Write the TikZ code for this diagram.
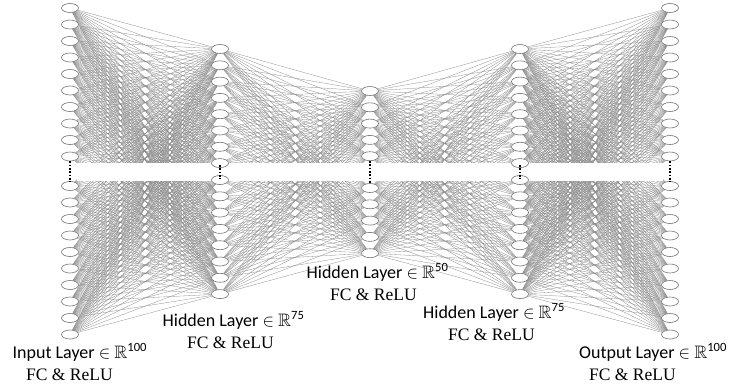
\documentclass[tikz,border=0pt]{standalone}
\usepackage{fontspec}
\usepackage{amssymb}
\newfontfamily\labfont{Carlito}
\newfontfamily\subfont{Liberation Serif}
\usetikzlibrary{backgrounds,shapes.geometric}
\begin{document}
\begin{tikzpicture}[x=1pt,y=-1pt,
  neuron/.style={ellipse, draw=black!55, line width=0.6pt, fill=white,
    minimum width=17pt, minimum height=9pt, inner sep=0pt},
  edge/.style={draw=black!45, line width=0.3pt},
  gapdots/.style={line width=2pt, dash pattern=on 1.8pt off 1.5pt},
  lab/.style={font=\labfont\fontsize{18}{21}\selectfont, inner sep=0pt, anchor=base west},
  sublab/.style={font=\subfont\fontsize{17.5}{20}\selectfont, inner sep=0pt, anchor=base west}]
\useasboundingbox (0,0) rectangle (729,391);
% layers 1 and 5
\foreach \i in {1,...,20} {
  \pgfmathsetmacro\yy{\i<=10 ? 8+16.5*(\i-1) : 186+16.5*(\i-11)}
  \node[neuron] (a\i) at (70,\yy) {};
  \node[neuron] (e\i) at (670,\yy) {};
}
% layers 2 and 4
\foreach \i in {1,...,16} {
  \pgfmathsetmacro\yy{\i<=8 ? 49+16.3*(\i-1) : 180+16.3*(\i-9)}
  \node[neuron] (b\i) at (220,\yy) {};
  \node[neuron] (d\i) at (520,\yy) {};
}
% layer 3
\foreach \i in {1,...,10} {
  \pgfmathsetmacro\yy{\i<=5 ? 91+16.3*(\i-1) : 188+16.3*(\i-6)}
  \node[neuron] (c\i) at (370,\yy) {};
}
\begin{scope}[on background layer]
  \foreach \i in {1,...,20} {
    \foreach \j in {1,...,16} {
      \draw[edge] (a\i) -- (b\j);
      \draw[edge] (d\j) -- (e\i);
    }
  }
  \foreach \i in {1,...,16} {
    \foreach \j in {1,...,10} {
      \draw[edge] (b\i) -- (c\j);
      \draw[edge] (c\j) -- (d\i);
    }
  }
  \fill[white] (77,163) rectangle (663,180.5);
\end{scope}
\draw[gapdots] (a10.south) -- (a11.north);
\draw[gapdots] (e10.south) -- (e11.north);
\draw[gapdots, shorten <=-3pt, shorten >=-3pt] (b8.south) -- (b9.north);
\draw[gapdots, shorten <=-3pt, shorten >=-3pt] (d8.south) -- (d9.north);
\draw[gapdots] (c5.south) -- (c6.north);
% labels
\node[lab] (l1a) at (12.5,358) {Input Layer $\in$ $\mathbb{R}$\textsuperscript{100}};
\node[sublab] (l1b) at (26,380) {FC \& ReLU};
\node[lab] (l2a) at (162.5,326) {Hidden Layer $\in$ $\mathbb{R}$\textsuperscript{75}};
\node[sublab] (l2b) at (187,348) {FC \& ReLU};
\node[lab] (l3a) at (306.5,278) {Hidden Layer $\in$ $\mathbb{R}$\textsuperscript{50}};
\node[sublab] (l3b) at (330,300) {FC \& ReLU};
\node[lab] (l4a) at (423,318) {Hidden Layer $\in$ $\mathbb{R}$\textsuperscript{75}};
\node[sublab] (l4b) at (448,340) {FC \& ReLU};
\node[lab] (l5a) at (579,358) {Output Layer $\in$ $\mathbb{R}$\textsuperscript{100}};
\node[sublab] (l5b) at (589,380) {FC \& ReLU};
\end{tikzpicture}
\end{document}
